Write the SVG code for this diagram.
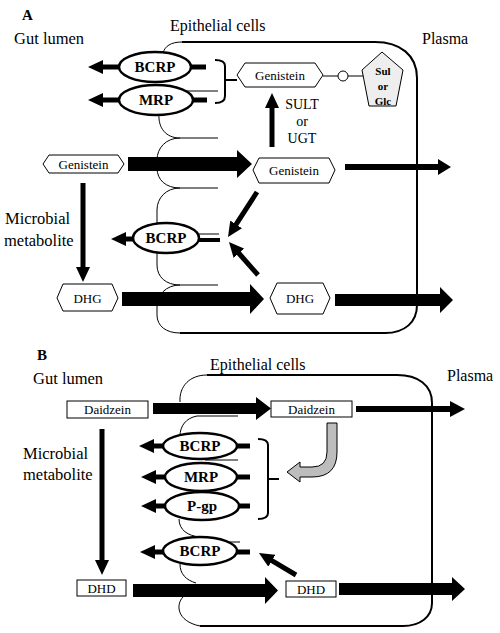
<svg xmlns="http://www.w3.org/2000/svg" width="500" height="633" viewBox="0 0 500 633">
<defs>
<marker id="ah" markerUnits="userSpaceOnUse" markerWidth="15" markerHeight="14" refX="1" refY="7" orient="auto">
<path d="M0,0 L15,7 L0,14 Z" fill="#000"/>
</marker>
<style>
.t{font-family:"Liberation Serif","Times New Roman",serif;fill:#000}
.lbl{font-size:16.5px}
.ttl{font-size:16px}
.box{font-size:13px;text-anchor:middle}
.tr{font-size:15px;font-weight:bold;text-anchor:middle}
.hd{font-size:15px;font-weight:bold}
.ell{fill:#fff;stroke:#000;stroke-width:2.5}
.mem{fill:none;stroke:#000;stroke-width:1}
.cell{fill:none;stroke:#000;stroke-width:2}
.hex{fill:#fff;stroke:#000;stroke-width:1}
.arr{stroke:#000;stroke-width:5;fill:none;marker-end:url(#ah)}
.stub{stroke:#000;stroke-width:5}
.thin{stroke:#000;stroke-width:1}
.big{fill:#000}
.brace{fill:none;stroke:#000;stroke-width:2}
</style>
</defs>
<rect width="500" height="633" fill="#fff"/>

<!-- Panel A membranes -->
<g id="cellA">
<path class="cell" d="M182 42 L375 42 C400 42 417 55 417 78 L417 305 C417 322 405 333 385 333 L180 333"/>
<path class="mem" d="M163 53 C165 46 171 42 182 42"/>
<path class="mem" d="M182 91 L218 91"/>
<path class="mem" d="M159 114 C158 128 166 138 180 138 C166 138 157 148 157 160 L157 168 C157 180 166 188 180 188 C166 188 157 198 157 210 L157 225"/>
<path class="mem" d="M180 138 L218 138 M180 188 L218 188 M180 285 L218 285"/>
<path class="mem" d="M157 252 L157 265 C157 277 166 285 180 285 C166 285 157 295 157 307 L157 315 C157 326 166 333 180 333"/>
</g>

<!-- Panel B membranes -->
<g id="cellB">
<path class="cell" d="M207 375 L397 375 C418 375 432 385 432 403 L432 603 C432 617 420 626 403 626 L200 626"/>
<path class="mem" d="M180 402 C179 386 190 375 207 375"/>
<path class="mem" d="M197 416 L238 416 M197 416 C186 418 180 426 180 436"/>
<path class="mem" d="M205 460 L238 460"/>
<path class="mem" d="M179 519 C179 530 188 536 200 537"/>
<path class="mem" d="M228 542 L240 542"/>
<path class="mem" d="M180 564 C180 574 186 580 196 583"/>
<path class="mem" d="M183 597 C176 604 176 621 200 626"/>
</g>

<!-- Labels -->
<g id="labels">
<text class="t hd" x="22" y="20">A</text>
<text class="t lbl" x="14" y="44">Gut lumen</text>
<text class="t ttl" x="170" y="31">Epithelial cells</text>
<text class="t ttl" x="422" y="44">Plasma</text>
<text class="t lbl" x="5" y="224">Microbial</text>
<text class="t lbl" x="4" y="246">metabolite</text>
<text class="t" x="302" y="109" style="font-size:14px;text-anchor:middle">SULT</text>
<text class="t" x="302" y="126" style="font-size:14px;text-anchor:middle">or</text>
<text class="t" x="302" y="143" style="font-size:14px;text-anchor:middle">UGT</text>
<text class="t hd" x="37" y="360">B</text>
<text class="t lbl" x="33" y="384">Gut lumen</text>
<text class="t ttl" x="210" y="370">Epithelial cells</text>
<text class="t ttl" x="447" y="381">Plasma</text>
<text class="t lbl" x="23" y="459">Microbial</text>
<text class="t lbl" x="23" y="480">metabolite</text>
</g>

<!-- Connectors -->
<g id="connectors">
<!-- A -->
<line class="arr" x1="119" y1="67" x2="102" y2="67"/>
<line class="stub" x1="190" y1="67" x2="206" y2="67"/>
<line class="arr" x1="120" y1="100" x2="102" y2="100"/>
<line class="stub" x1="192" y1="100" x2="207" y2="100"/>
<path class="brace" d="M215 60 Q225 60 225 66 L225 96 Q225 103 215 103 M225 80 L237 80"/>
<line class="thin" x1="323" y1="76" x2="338" y2="76"/>
<circle cx="343" cy="76" r="5" fill="#fff" stroke="#000" stroke-width="1"/>
<line class="thin" x1="348" y1="76" x2="364" y2="76"/>
<line class="arr" x1="272" y1="147" x2="272" y2="107"/>
<polygon class="big" points="128,157 237,157 237,150 252,164 237,178 237,171 128,171"/>
<polygon class="big" points="345,164 438,164 438,159 451,167 438,175 438,170 345,170"/>
<line class="arr" x1="257" y1="192" x2="235.6" y2="225.2"/>
<line class="arr" x1="258" y1="275" x2="238.2" y2="252.5"/>
<line class="arr" x1="133" y1="239" x2="125" y2="239"/>
<line class="thin" x1="195" y1="234" x2="219" y2="234"/>
<line class="stub" x1="198" y1="240" x2="220" y2="240" style="stroke-width:4"/>
<line class="arr" x1="83" y1="183" x2="83" y2="268"/>
<polygon class="big" points="122,292 250,292 250,284 264,299 250,314 250,306 122,306"/>
<polygon class="big" points="335,294 440,294 440,287 453,300 440,313 440,306 335,306"/>
<!-- B -->
<polygon class="big" points="153,403 256,403 256,397 271,408.5 256,420 256,414 153,414"/>
<polygon class="big" points="356,406 450,406 450,401 465,409 450,417 450,412 356,412"/>
<path d="M327 423 L337 423 L337 452 Q337 477 312 477 L300 477 L300 482 L287 472 L300 462 L300 467 L312 467 Q327 467 327 452 Z" fill="#bdbdbd" stroke="#000" stroke-width="1"/>
<line class="arr" x1="163" y1="446" x2="153" y2="446"/>
<line class="stub" x1="236" y1="446" x2="250" y2="446"/>
<line class="arr" x1="165" y1="477" x2="155" y2="477"/>
<line class="stub" x1="236" y1="477" x2="250" y2="477"/>
<line class="arr" x1="165" y1="506" x2="155" y2="506"/>
<line class="stub" x1="238" y1="506" x2="250" y2="506"/>
<line class="arr" x1="163" y1="552" x2="154" y2="552"/>
<line class="stub" x1="236" y1="552" x2="250" y2="552"/>
<path class="brace" d="M258 439 Q268 439 268 445 L268 513 Q268 519 258 519 M268 479 L279 479"/>
<line class="arr" x1="296" y1="575" x2="271" y2="560.2"/>
<line class="arr" x1="102" y1="429" x2="102" y2="561"/>
<polygon class="big" points="133,584 265,584 265,577 278,590.5 265,604 265,597 133,597"/>
<polygon class="big" points="339,583 452,583 452,577 465,589 452,601 452,595 339,595"/>
</g>

<!-- Nodes A -->
<g id="a-bcrp1"><ellipse class="ell" cx="155" cy="67" rx="36" ry="15"/><text class="t tr" x="155" y="72">BCRP</text></g>
<g id="a-mrp"><ellipse class="ell" cx="156" cy="100" rx="37" ry="15"/><text class="t tr" x="156" y="105">MRP</text></g>
<g id="a-bcrp2"><ellipse class="ell" cx="166" cy="238" rx="33" ry="15"/><text class="t tr" x="166" y="243">BCRP</text></g>
<g id="a-gen-top"><polygon class="hex" points="237,75 245,63 315,63 323,75 315,87 245,87"/><text class="t box" x="280" y="80">Genistein</text></g>
<g id="a-conj"><polygon points="382,52 403,70 396,106 369,106 362,70" fill="#eeeeee" stroke="#000" stroke-width="1"/>
<text class="t" x="383" y="75" style="font-size:11px;font-weight:bold;text-anchor:middle">Sul</text>
<text class="t" x="383" y="90" style="font-size:11px;font-weight:bold;text-anchor:middle">or</text>
<text class="t" x="383" y="105" style="font-size:11px;font-weight:bold;text-anchor:middle">Glc</text></g>
<g id="a-gen-lumen"><polygon class="hex" points="43,164 49,155 118,155 124,164 118,173 49,173"/><text class="t box" x="83.5" y="168.5">Genistein</text></g>
<g id="a-gen-cell"><polygon class="hex" points="253,170 259,158 329,158 335,170 329,183 259,183"/><text class="t box" x="294" y="175">Genistein</text></g>
<g id="a-dhg-lumen"><polygon class="hex" points="57,298 63,284 112,284 118,298 112,311 63,311"/><text class="t box" x="87.5" y="302.5">DHG</text></g>
<g id="a-dhg-cell"><polygon class="hex" points="270,298 277,283 323,283 330,298 323,314 277,314"/><text class="t box" x="300" y="302.5">DHG</text></g>

<!-- Nodes B -->
<g id="b-daid-lumen"><rect class="hex" x="67" y="401" width="81" height="17"/><text class="t box" x="107.5" y="414">Daidzein</text></g>
<g id="b-daid-cell"><rect class="hex" x="271" y="401" width="81" height="16"/><text class="t box" x="311.5" y="413.5">Daidzein</text></g>
<g id="b-bcrp1"><ellipse class="ell" cx="200" cy="446" rx="37" ry="13"/><text class="t tr" x="200" y="451">BCRP</text></g>
<g id="b-mrp"><ellipse class="ell" cx="201" cy="477" rx="36" ry="14"/><text class="t tr" x="201" y="482">MRP</text></g>
<g id="b-pgp"><ellipse class="ell" cx="202" cy="506" rx="37" ry="14"/><text class="t tr" x="202" y="511">P-gp</text></g>
<g id="b-bcrp2"><ellipse class="ell" cx="200" cy="551" rx="37" ry="14"/><text class="t tr" x="200" y="556">BCRP</text></g>
<g id="b-dhd-lumen"><rect class="hex" x="77" y="580" width="49" height="16"/><text class="t box" x="101.5" y="592.5">DHD</text></g>
<g id="b-dhd-cell"><rect class="hex" x="286" y="581" width="50" height="16"/><text class="t box" x="311" y="593.5">DHD</text></g>
</svg>
